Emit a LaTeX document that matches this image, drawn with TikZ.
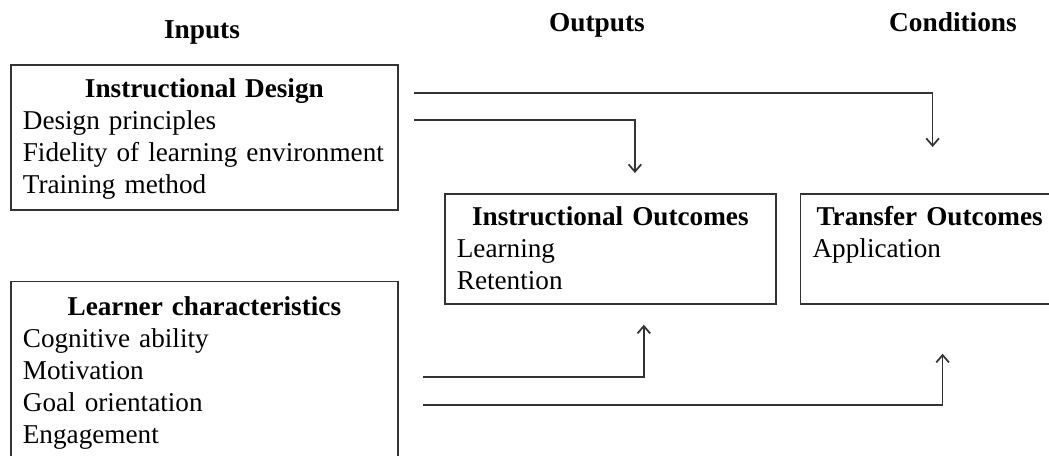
\documentclass[tikz,border=0pt]{standalone}
\usepackage{fontspec}
\setmainfont[WordSpace=0.7]{Liberation Serif}
\usetikzlibrary{arrows.meta, positioning}

\begin{document}
\begin{tikzpicture}[
        x=0.75pt, y=-0.75pt, % work on the pixel grid of the figure
        box/.style={rectangle, draw=black!80, line width=1.3pt, inner xsep=9pt, inner ysep=0pt,
                    align=left, font=\fontsize{20.4}{24}\selectfont},
        head/.style={font=\fontsize{20.5}{24}\selectfont\bfseries, anchor=base},
        flow/.style={draw=black!80, line width=1.3pt, -{Straight Barb[length=5.5pt, width=9.5pt]}}
      ]
      \useasboundingbox (0,0) rectangle (1049,455);
      \clip (0,0) rectangle (1049,455);

      % Column titles
      \node[head] (inputs) at (202,38) {Inputs};
      \node[head] (outputs) at (597,31) {Outputs};
      \node[head] (conds) at (953,31) {Conditions};

      % Input boxes
      \node (idesign) [box, anchor=north west, text width=272.25pt, text height=24.75pt, text depth=84pt] at (10,64)
        {\makebox[\linewidth]{\textbf{Instructional Design}}\\ Design principles\\ Fidelity of learning environment\\ Training method};
      \node (learner) [box, below=52.5pt of idesign, text width=272.25pt, text height=25.5pt, text depth=140pt]
        {\makebox[\linewidth]{\textbf{Learner characteristics}}\\ Cognitive ability\\ Motivation\\ Goal orientation\\ Engagement};

      % Outcome boxes
      \node (iout) [box, anchor=north west, text width=230.25pt, text height=24pt, text depth=58.5pt] at (444,193)
        {\makebox[\linewidth]{\textbf{Instructional Outcomes}}\\ Learning\\ Retention};
      \node (tout) [box, right=17.25pt of iout, text width=175.5pt, text height=24pt, text depth=58.5pt]
        {\makebox[\linewidth]{\textbf{Transfer Outcomes}}\\ Application};

      % Free starts of the connectors
      \coordinate (ds1) at (414,93);
      \coordinate (ds2) at (414,120);
      \coordinate (ls1) at (423,377);
      \coordinate (ls2) at (423,405);

      % Connectors
      \draw [flow, shorten >=34.5pt] (ds1) -| ([xshift=2.25pt]tout.north);
      \draw [flow, shorten >=15pt] (ds2) -| ([xshift=18.4pt]iout.north);
      \draw [flow, shorten >=15pt] (ls1) -| ([xshift=25.1pt]iout.south);
      \draw [flow, shorten >=36.75pt] (ls2) -| ([xshift=9.75pt]tout.south);

\end{tikzpicture}
\end{document}
